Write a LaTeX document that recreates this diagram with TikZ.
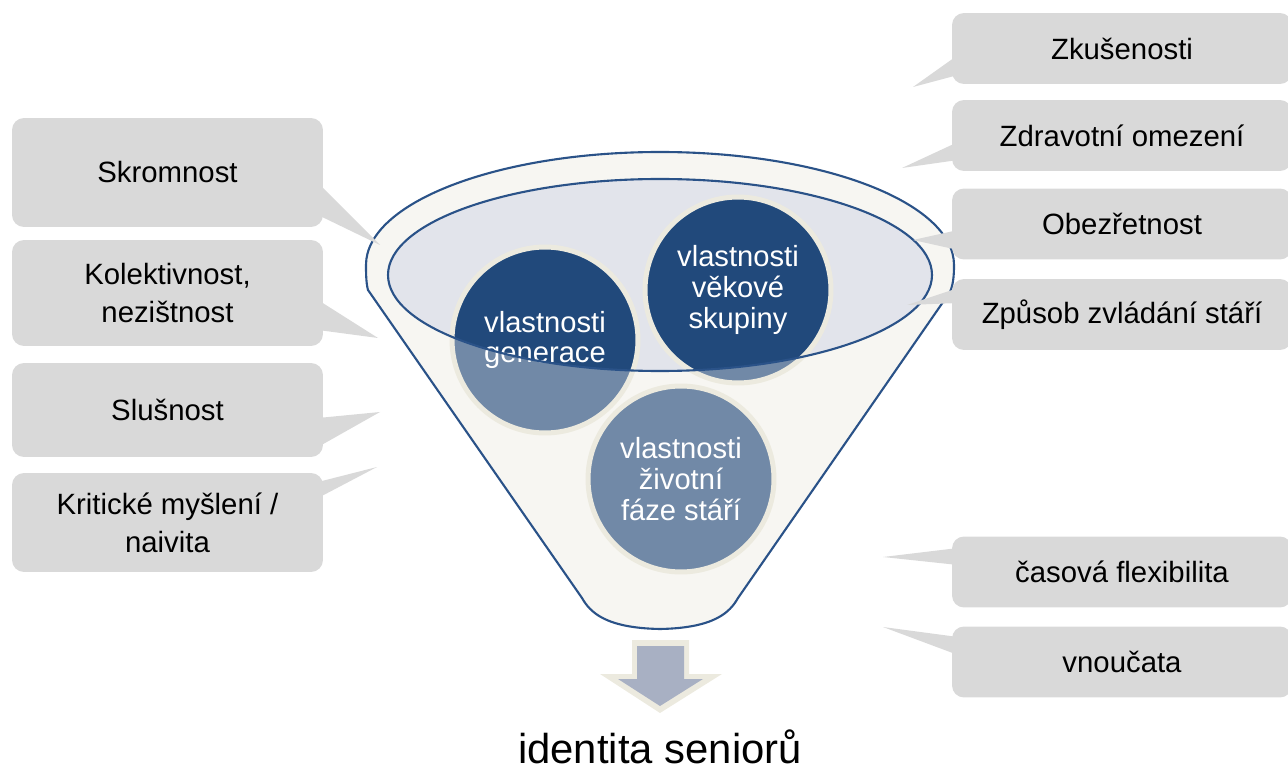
\documentclass[tikz,border=0pt]{standalone}
\usepackage{fontspec}
\setmainfont{Liberation Sans}
\usepackage{tikz}
\definecolor{callgray}{HTML}{D9D9D9}
\definecolor{funnelfill}{HTML}{F7F6F2}
\definecolor{funnelblue}{HTML}{2A5288}
\definecolor{rimfill}{HTML}{E2E4EB}
\definecolor{circdark}{HTML}{21497B}
\definecolor{circlight}{HTML}{7189A7}
\definecolor{cream}{HTML}{ECEADF}
\definecolor{arrowfill}{HTML}{A8B0C3}

\begin{document}
\begin{tikzpicture}[x=0.02cm,y=-0.02cm,
    callout/.style={fill=callgray,rounded corners=0.24cm,inner sep=0pt,outer sep=0pt,align=center,font=\fontsize{16.7}{21.6}\selectfont},
    leftbox/.style={callout,minimum width=6.22cm},
    rightbox/.style={callout,minimum width=6.8cm,minimum height=1.42cm},
    bubble/.style={circle,draw=cream,line width=0.1cm,minimum size=3.72cm,inner sep=0pt,align=center,text=white,font=\fontsize{16.6}{17.5}\selectfont},
    funnelline/.style={draw=funnelblue,line width=1.2pt}]
      \useasboundingbox (0,0) rectangle (1288,773);

      % funnel
      \filldraw[fill=funnelfill,funnelline] (366,265) arc[start angle=180,end angle=360,x radius=294,y radius=113] .. controls (954,277) and (953,285) .. (950,292) -- (738,598) .. controls (730,612) and (715,628) .. (660,629) .. controls (605,628) and (590,612) .. (582,598) -- (368,290) .. controls (366,283) and (366,272) .. cycle;

      \coordinate (rim) at (660,275);
      \coordinate (cgen) at (545,340);
      \coordinate (cgrp) at (738,290);
      \coordinate (cfaz) at (681,479);

      \fill[rimfill] (rim) ellipse[x radius=272,y radius=96];
      \fill[circlight] (cgen) circle[radius=93] (cgrp) circle[radius=93] (cfaz) circle[radius=93];
      \begin{scope}
        \clip (rim) ellipse[x radius=272,y radius=96];
        \fill[circdark] (cgen) circle[radius=93] (cgrp) circle[radius=93];
      \end{scope}

      \node[bubble] (gen) at (cgen) {vlastnosti\\generace};
      \node[bubble] (grp) at (cgrp) {vlastnosti\\věkové\\skupiny};
      \node[bubble] (faz) at (cfaz) {vlastnosti\\životní\\fáze stáří};

      \draw[funnelline] (rim) ellipse[x radius=272,y radius=96];

      % arrow and result
      \fill[cream] (632,640) -- (689,640) -- (689,674) -- (722,674) -- (660,713) -- (600,674) -- (632,674) -- cycle;
      \fill[arrowfill] (637,646) -- (684,646) -- (684,679) -- (703,679) -- (660,706) -- (618,679) -- (637,679) -- cycle;
      \node[font=\fontsize{23.8}{28}\selectfont,anchor=base,inner sep=0pt] (ident) at (660,763) {identita seniorů};

      % callouts left
      \node[leftbox,minimum height=2.18cm] (skrom) at (167.5,172.5) {Skromnost};
      \node[leftbox,minimum height=2.12cm] (kolek) at (167.5,293) {Kolektivnost,\\nezištnost};
      \node[leftbox,minimum height=1.88cm] (slus) at (167.5,410) {Slušnost};
      \node[leftbox,minimum height=1.98cm] (krit) at (167.5,522.5) {Kritické myšlení /\\naivita};

      % callouts right
      \node[rightbox] (zkus) at (1122,48.5) {Zkušenosti};
      \node[rightbox] (zdrav) at (1122,135.5) {Zdravotní omezení};
      \node[rightbox] (obez) at (1122,224) {Obezřetnost};
      \node[rightbox] (zpus) at (1122,314.5) {Způsob zvládání stáří};
      \node[rightbox] (cas) at (1122,572) {časová flexibilita};
      \node[rightbox] (vnouc) at (1122,662) {vnoučata};

      % tails
      \coordinate (t1) at (380,245);
      \coordinate (t2) at (378,338);
      \coordinate (t3) at (380,412);
      \coordinate (t4) at (377,467);
      \coordinate (t5) at (913,87);
      \coordinate (t6) at (902,168);
      \coordinate (t7) at (913,240);
      \coordinate (t8) at (907,305);
      \coordinate (t9) at (883,557);
      \coordinate (t10) at (883,627);
      \fill[callgray] (318,183) -- (t1) -- (318,215) -- cycle;
      \fill[callgray] (318,300) -- (t2) -- (318,330) -- cycle;
      \fill[callgray] (318,418) -- (t3) -- (318,447) -- cycle;
      \fill[callgray] (318,482) -- (t4) -- (318,498) -- cycle;
      \fill[callgray] (958,55) -- (t5) -- (958,75) -- cycle;
      \fill[callgray] (958,142) -- (t6) -- (958,160) -- cycle;
      \fill[callgray] (958,230) -- (t7) -- (958,250) -- cycle;
      \fill[callgray] (958,288) -- (t8) -- (958,303) -- cycle;
      \fill[callgray] (958,548) -- (t9) -- (958,565) -- cycle;
      \fill[callgray] (958,637) -- (t10) -- (958,655) -- cycle;
    \end{tikzpicture}
\end{document}
